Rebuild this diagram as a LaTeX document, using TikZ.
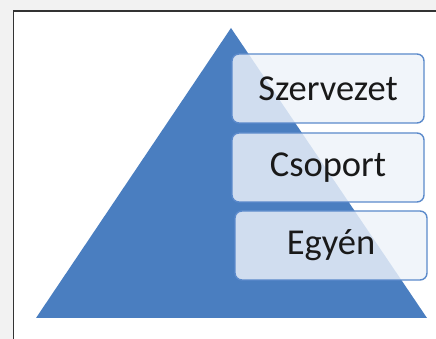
\documentclass[tikz,border=0pt]{standalone}
\usepackage{fontspec}
\setmainfont{Carlito}
\definecolor{pyr}{HTML}{4A7EC0}
\definecolor{boxline}{HTML}{5B8ACB}
\definecolor{boxfill}{HTML}{EEF3FA}
\definecolor{outer}{HTML}{F2F2F2}
\tikzset{
  lvl/.style={draw=boxline, line width=1.4pt, rounded corners=7pt, fill=boxfill, fill opacity=0.82, text opacity=1,
    minimum width=192pt, minimum height=69pt, inner sep=0pt, font=\fontsize{36.5}{40}\selectfont, text=black!90}
}
\begin{document}
\begin{tikzpicture}[x=1pt,y=1pt]
\useasboundingbox (0,0) rectangle (436,339);
\fill[outer] (0,0) rectangle (436,339);
\fill[white] (13.5,0) rectangle (436,328);
\draw[black!80, line width=1.3pt] (13.5,0) -- (13.5,328) -- (436,328);
\fill[pyr] (36,21) -- (231,311) -- (427,21) -- cycle;
\node[lvl] (szervezet) at (328,250.5) {Szervezet};
\node[lvl] (csoport) at (328,171.5) {Csoport};
\node[lvl] (egyen) at (331,93.5) {Egyén};
\end{tikzpicture}
\end{document}
